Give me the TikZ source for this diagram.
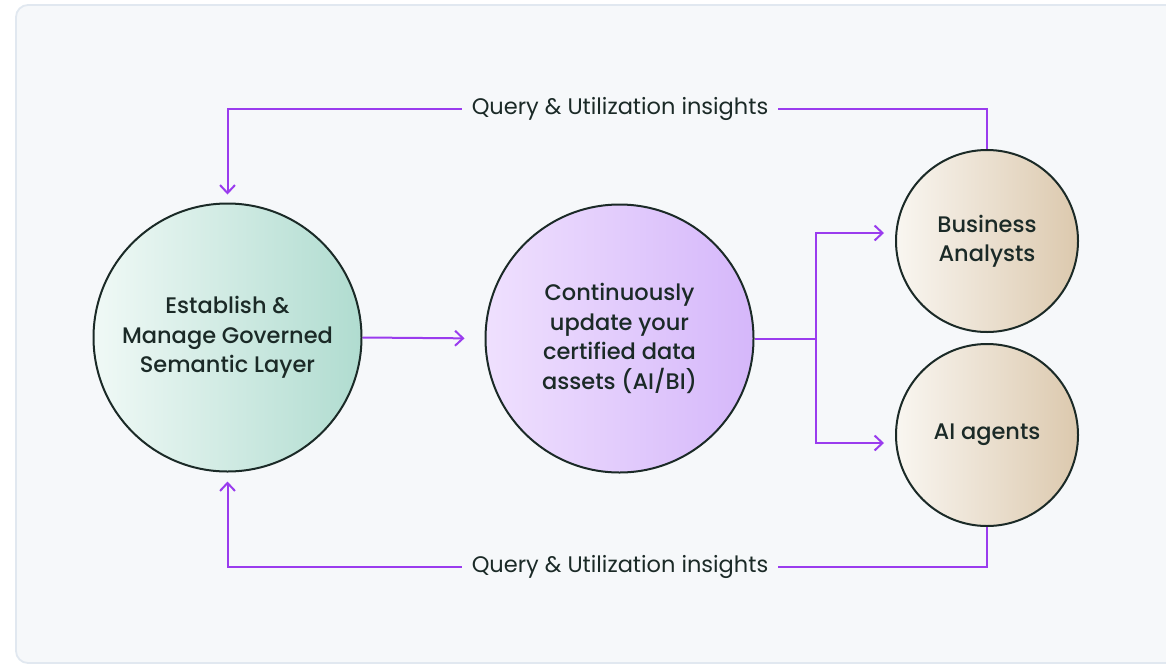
\documentclass[tikz,border=0pt]{standalone}
\usepackage{fontspec}
\setmainfont{Poppins}[BoldFont={Poppins Medium}]
\usetikzlibrary{arrows.meta,calc}
\definecolor{panelbg}{HTML}{F6F8FA}
\definecolor{panelbd}{HTML}{E1E8F0}
\definecolor{plum}{HTML}{9A3CEE}
\definecolor{ink}{HTML}{1B2A27}
\definecolor{tealL}{HTML}{F0F9F6}
\definecolor{tealR}{HTML}{B0DCD0}
\definecolor{lilL}{HTML}{EFE0FE}
\definecolor{lilR}{HTML}{D5B7FA}
\definecolor{sandL}{HTML}{F9F6F1}
\definecolor{sandR}{HTML}{DCC9AE}
\tikzset{
  x=1pt, y=-1pt,
  bigc/.style={circle, draw=ink, line width=2pt, minimum size=268pt, inner sep=0pt,
    align=center, text=ink, font=\fontsize{22.5}{29.5}\selectfont\bfseries},
  smallc/.style={circle, draw=ink, line width=2pt, minimum size=182pt, inner sep=0pt,
    align=center, text=ink, left color=sandL, right color=sandR,
    font=\fontsize{22.5}{29.5}\selectfont\bfseries},
  qlabel/.style={text=ink, font=\fontsize{22.5}{26}\selectfont, inner xsep=10pt, inner ysep=2pt},
  pline/.style={draw=plum, line width=2pt},
  parr/.style={pline, -{Straight Barb[length=8pt,width=15pt,line width=2pt]}},
}
\begin{document}
\begin{tikzpicture}
\useasboundingbox (0,0) rectangle (1166,664);
\begin{scope}
\clip (0,0) rectangle (1166,664);
\fill[white] (0,0) rectangle (1166,664);
\draw[panelbd, line width=1.8pt, fill=panelbg, rounded corners=12pt] (16,5) rectangle (1190,663);
\end{scope}

\node[bigc, left color=tealL, right color=tealR] (est) at (227.5,337.5)
  {Establish \&\\Manage Governed\\Semantic Layer};
\node[bigc, left color=lilL, right color=lilR] (cont) at (619.5,338.5)
  {Continuously\\update your\\certified data\\assets (AI/BI)};
\node[smallc] (ba) at (987,241) {Business\\Analysts};
\node[smallc] (ai) at (987,435) {AI agents};

\node[qlabel] (q1) at (620,109) {Query \& Utilization insights};
\node[qlabel] (q2) at (620,567) {Query \& Utilization insights};

\coordinate (br) at (816,338.5);

\draw[pline] (ba.north) |- (q1.east);
\draw[parr, shorten >=8pt] (q1.west) -| (est.north);
\draw[pline] (ai.south) |- (q2.east);
\draw[parr, shorten >=9pt] (q2.west) -| (est.south);

\draw[parr, shorten >=20pt] (est.east) -- (cont.west);
\draw[pline] (cont.east) -- (br);
\draw[parr, shorten >=11pt] (br) |- ([yshift=8pt]ba.west);
\draw[parr, shorten >=11pt] (br) |- ([yshift=-8pt]ai.west);
\end{tikzpicture}
\end{document}
